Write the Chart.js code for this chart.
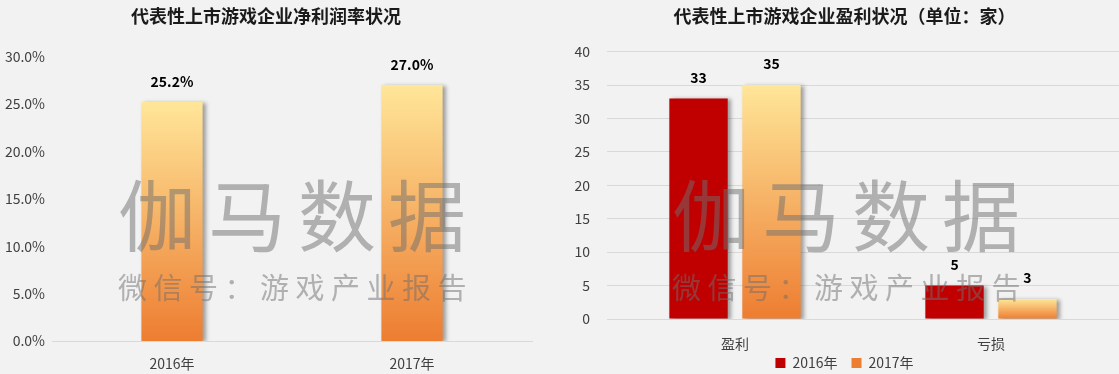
<!DOCTYPE html>
<html>
<head>
<meta charset="utf-8">
<script src="https://cdn.jsdelivr.net/npm/chart.js@4/dist/chart.umd.min.js"></script>
<style>
  body { margin: 0; background: #f2f2f2; }
  .wrap { display: flex; width: 1119px; height: 374px; }
  .box { position: relative; height: 374px; }
</style>
</head>
<body>
<div class="wrap">
  <div class="box" style="width:555px"><canvas id="marginChart"></canvas></div>
  <div class="box" style="width:564px"><canvas id="profitChart"></canvas></div>
</div>
<script>
'use strict';

var years = ['2016年', '2017年'];
var marginValues = [25.2, 27.0];
var profitCats = ['盈利', '亏损'];
var companies2016 = [33, 5];
var companies2017 = [35, 3];
var seriesNames = ['2016年', '2017年'];

var FONT = "'Noto Sans CJK SC', 'Noto Sans', sans-serif";
Chart.defaults.font.family = FONT;
Chart.defaults.color = '#404040';

function barGradient(c) {
  var chart = c.chart, y = chart.scales.y;
  if (!y || c.raw == null) return '#f3a35a';
  var top = y.getPixelForValue(c.raw), base = y.getPixelForValue(0);
  if (!isFinite(top) || !isFinite(base) || top === base) return '#f3a35a';
  var g = chart.ctx.createLinearGradient(0, top, 0, base);
  g.addColorStop(0, '#ffe699');
  g.addColorStop(1, '#ed7d31');
  return g;
}

// shadow under the bars
var shadowPlugin = {
  id: 'shadow',
  beforeDatasetsDraw: function (chart) {
    var ctx = chart.ctx;
    ctx.save();
    ctx.shadowColor = 'rgba(0,0,0,0.35)';
    ctx.shadowBlur = 4;
    ctx.shadowOffsetX = 3;
    ctx.shadowOffsetY = 1;
  },
  afterDatasetsDraw: function (chart) { chart.ctx.restore(); }
};

// value labels over the bars
var valueLabels = {
  id: 'valueLabels',
  afterDatasetsDraw: function (chart, args, opts) {
    var ctx = chart.ctx;
    ctx.save();
    ctx.font = 'bold 14px ' + FONT;
    ctx.fillStyle = '#000';
    ctx.textAlign = 'center';
    ctx.textBaseline = 'middle';
    chart.data.datasets.forEach(function (ds, i) {
      chart.getDatasetMeta(i).data.forEach(function (bar, j) {
        ctx.fillText(opts.format(ds.data[j]), bar.x, bar.y - opts.offset);
      });
    });
    ctx.restore();
  }
};

// gray watermark
var watermark = {
  id: 'watermark',
  afterDraw: function (chart, args, opts) {
    var ctx = chart.ctx;
    ctx.save();
    ctx.fillStyle = 'rgba(110,110,110,0.5)';
    ctx.textBaseline = 'middle';
    ctx.textAlign = 'left';
    function spaced(text, x, y, size, step) {
      ctx.font = size + 'px ' + FONT;
      Array.from(text).forEach(function (ch, k) { ctx.fillText(ch, x + k * step, y); });
    }
    spaced('伽马数据', opts.x, 216, 78, 90);
    spaced('微信号：游戏产业报告', opts.x, 288, 29, 35.5);
    ctx.restore();
  }
};

new Chart(document.getElementById('marginChart'), {
  type: 'bar',
  data: {
    labels: years,
    datasets: [{
      data: marginValues,
      backgroundColor: barGradient,
      categoryPercentage: 1,
      barPercentage: 0.255
    }]
  },
  plugins: [shadowPlugin, valueLabels, watermark],
  options: {
    responsive: true,
    maintainAspectRatio: false,
    animation: false,
    events: [],
    layout: { padding: { left: 0, right: 23, top: 4, bottom: 0 } },
    plugins: {
      legend: { display: false },
      tooltip: { enabled: false },
      title: {
        display: true,
        text: '代表性上市游戏企业净利润率状况',
        color: '#1a1a1a',
        font: { size: 18, weight: 'bold' },
        padding: { top: 1, bottom: 30 }
      },
      valueLabels: { offset: 20, format: function (v) { return v.toFixed(1) + '%'; } },
      watermark: { x: 118 }
    },
    scales: {
      x: {
        grid: { display: false, drawTicks: false },
        border: { color: '#d9d9d9' },
        ticks: { font: { size: 14 }, color: '#404040', padding: 14 },
        afterFit: function (s) { s.height = 33; }
      },
      y: {
        min: 0, max: 30,
        ticks: { stepSize: 5, font: { size: 14 }, color: '#404040', padding: 7,
          callback: function (v) { return v.toFixed(1) + '%'; } },
        grid: { display: false, drawTicks: false },
        border: { display: false },
        afterFit: function (s) { s.width = 52; }
      }
    }
  }
});

new Chart(document.getElementById('profitChart'), {
  type: 'bar',
  data: {
    labels: profitCats,
    datasets: [{
      label: seriesNames[0],
      data: companies2016,
      backgroundColor: '#c00000',
      categoryPercentage: 0.57,
      barPercentage: 0.8
    }, {
      label: seriesNames[1],
      data: companies2017,
      backgroundColor: barGradient,
      categoryPercentage: 0.57,
      barPercentage: 0.8
    }]
  },
  plugins: [shadowPlugin, valueLabels, watermark],
  options: {
    responsive: true,
    maintainAspectRatio: false,
    animation: false,
    events: [],
    layout: { padding: { left: 15, right: 0, top: 4, bottom: -6 } },
    plugins: {
      legend: {
        position: 'bottom',
        labels: {
          boxWidth: 10, boxHeight: 10, padding: 0, font: { size: 14 }, color: '#404040',
          generateLabels: function (chart) {
            var items = Chart.defaults.plugins.legend.labels.generateLabels(chart);
            items.forEach(function (it, k) {
              if (k < items.length - 1) it.text = it.text + '\u2003';
            });
            return items;
          }
        }
      },
      tooltip: { enabled: false },
      title: {
        display: true,
        text: '代表性上市游戏企业盈利状况（单位：家）',
        color: '#1a1a1a',
        font: { size: 18, weight: 'bold' },
        padding: { top: 1, bottom: 25 }
      },
      valueLabels: { offset: 21, format: function (v) { return String(v); } },
      watermark: { x: 117 }
    },
    scales: {
      x: {
        grid: { display: false, drawTicks: false },
        border: { display: false },
        ticks: { font: { size: 14 }, color: '#404040', padding: 16 },
        afterFit: function (s) { s.height = 37; }
      },
      y: {
        min: 0, max: 40,
        ticks: { stepSize: 5, font: { size: 14 }, color: '#404040', padding: 17 },
        grid: { color: '#d9d9d9', drawTicks: false },
        border: { display: false },
        afterFit: function (s) { s.width = 37; }
      }
    }
  }
});
</script>
</body>
</html>
